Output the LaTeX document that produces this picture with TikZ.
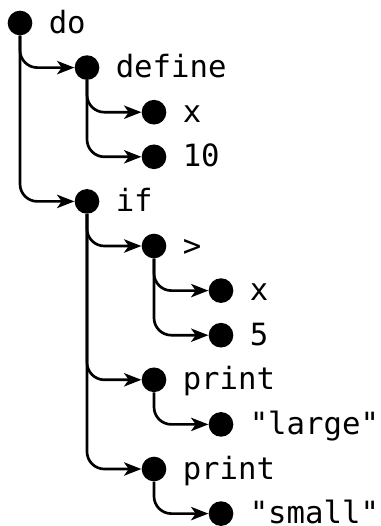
\documentclass[tikz,border=0pt]{standalone}
\usepackage{fontspec}
\setmonofont{DejaVu Sans Mono}
\usetikzlibrary{arrows.meta}
\tikzset{
  dot/.style={circle,fill=black,inner sep=0pt,minimum size=18.5pt},
  lbl/.style={anchor=base west,inner sep=0pt,font=\ttfamily\fontsize{23}{26}\selectfont},
  link/.style={line width=2pt,rounded corners=13pt,-{Stealth[length=13pt,width=10pt,inset=3.5pt]}},
}
\begin{document}
\begin{tikzpicture}[x=0.75pt,y=-0.75pt]
\useasboundingbox (0,0) rectangle (381,526);
\def\dy{44.6}
\node[dot] (n0) at (20,23) {};
\node[dot] (n1) at (87,23+1*\dy) {};
\node[dot] (n2) at (154,23+2*\dy) {};
\node[dot] (n3) at (154,23+3*\dy) {};
\node[dot] (n4) at (87,23+4*\dy) {};
\node[dot] (n5) at (154,23+5*\dy) {};
\node[dot] (n6) at (221,23+6*\dy) {};
\node[dot] (n7) at (221,23+7*\dy) {};
\node[dot] (n8) at (154,23+8*\dy) {};
\node[dot] (n9) at (221,23+9*\dy) {};
\node[dot] (n10) at (154,23+10*\dy) {};
\node[dot] (n11) at (221,23+11*\dy) {};
\node[lbl] (t0) at ([xshift=28.5*0.75pt,yshift=-10*0.75pt]n0.center) {do};
\node[lbl] (t1) at ([xshift=28.5*0.75pt,yshift=-10*0.75pt]n1.center) {define};
\node[lbl] (t2) at ([xshift=28.5*0.75pt,yshift=-10*0.75pt]n2.center) {x};
\node[lbl] (t3) at ([xshift=28.5*0.75pt,yshift=-10*0.75pt]n3.center) {10};
\node[lbl] (t4) at ([xshift=28.5*0.75pt,yshift=-10*0.75pt]n4.center) {if};
\node[lbl] (t5) at ([xshift=28.5*0.75pt,yshift=-10*0.75pt]n5.center) {>};
\node[lbl] (t6) at ([xshift=28.5*0.75pt,yshift=-10*0.75pt]n6.center) {x};
\node[lbl] (t7) at ([xshift=28.5*0.75pt,yshift=-10*0.75pt]n7.center) {5};
\node[lbl] (t8) at ([xshift=28.5*0.75pt,yshift=-10*0.75pt]n8.center) {print};
\node[lbl] (t9) at ([xshift=28.5*0.75pt,yshift=-10*0.75pt]n9.center) {"large"};
\node[lbl] (t10) at ([xshift=28.5*0.75pt,yshift=-10*0.75pt]n10.center) {print};
\node[lbl] (t11) at ([xshift=28.5*0.75pt,yshift=-10*0.75pt]n11.center) {"small"};
\draw[link] (n0.south) |- (n1.west);
\draw[link] (n0.south) |- (n4.west);
\draw[link] (n1.south) |- (n2.west);
\draw[link] (n1.south) |- (n3.west);
\draw[link] (n4.south) |- (n5.west);
\draw[link] (n4.south) |- (n8.west);
\draw[link] (n4.south) |- (n10.west);
\draw[link] (n5.south) |- (n6.west);
\draw[link] (n5.south) |- (n7.west);
\draw[link] (n8.south) |- (n9.west);
\draw[link] (n10.south) |- (n11.west);
\end{tikzpicture}
\end{document}
